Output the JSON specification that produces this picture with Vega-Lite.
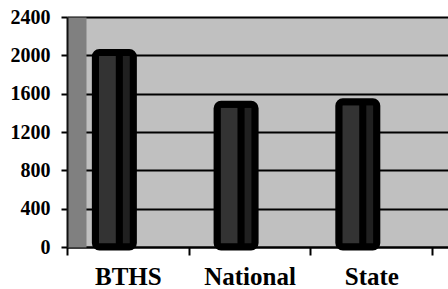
{
  "$schema": "https://vega.github.io/schema/vega-lite/v6.json",
  "width": 381,
  "height": 230,
  "autosize": {"type": "none"},
  "padding": {"left": 67, "top": 17, "right": 0, "bottom": 42},
  "background": "white",
  "config": {"view": {"fill": "#c0c0c0", "stroke": null}, "font": "Liberation Serif, DejaVu Serif, serif"},
  "data": {"values": [
    {"school": "BTHS", "score": 2030},
    {"school": "National", "score": 1490},
    {"school": "State", "score": 1515}
  ]},
  "encoding": {
    "x": {
      "field": "school", "type": "nominal", "sort": null,
      "scale": {"paddingInner": 0, "paddingOuter": 0.065, "align": 0},
      "axis": {"title": null, "labelAngle": 0, "tickBand": "extent", "domainColor": "black", "domainWidth": 2, "tickColor": "black", "tickWidth": 2, "tickSize": 8, "labelFont": "Liberation Serif, DejaVu Serif, serif", "labelFontWeight": "bold", "labelFontSize": 25, "labelColor": "black", "labelPadding": 9, "grid": false}
    },
    "y": {"field": "score", "type": "quantitative", "scale": {"domain": [0, 2400], "nice": false}}
  },
  "resolve": {"axis": {"y": "independent"}},
  "layer": [
    {
      "mark": {"type": "bar", "opacity": 0},
      "encoding": {
        "y": {"field": "score", "type": "quantitative", "axis": {"orient": "left", "title": null, "labels": false, "ticks": false, "grid": false, "domain": true, "domainWidth": 19, "domainColor": "#808080", "domainCap": "butt", "offset": -9.5}}
      }
    },
    {
      "mark": {"type": "bar", "fill": "#333333", "size": 38, "xOffset": -13.5, "cornerRadius": 4},
      "encoding": {
        "y": {"field": "score", "type": "quantitative", "axis": {"orient": "left", "title": null, "format": "d", "values": [0, 400, 800, 1200, 1600, 2000, 2400], "grid": true, "gridColor": "black", "gridWidth": 2, "gridOpacity": 1, "domain": true, "domainColor": "#111111", "domainWidth": 2, "tickColor": "black", "tickWidth": 2, "tickSize": 6, "labelFont": "Liberation Serif, DejaVu Serif, serif", "labelFontWeight": "bold", "labelFontSize": 20, "labelColor": "black", "labelPadding": 11}}
      }
    },
    {
      "mark": {"type": "bar", "fill": "#202020", "size": 14, "xOffset": -5},
      "encoding": {"y": {"field": "score", "type": "quantitative", "axis": null}}
    },
    {
      "mark": {"type": "bar", "fill": "black", "size": 7, "xOffset": -8.5},
      "encoding": {"y": {"field": "score", "type": "quantitative", "axis": null}}
    },
    {
      "mark": {"type": "bar", "fill": null, "fillOpacity": 0, "stroke": "black", "strokeWidth": 7, "size": 38, "xOffset": -13.5, "cornerRadius": 4},
      "encoding": {"y": {"field": "score", "type": "quantitative", "axis": null}}
    }
  ]
}
